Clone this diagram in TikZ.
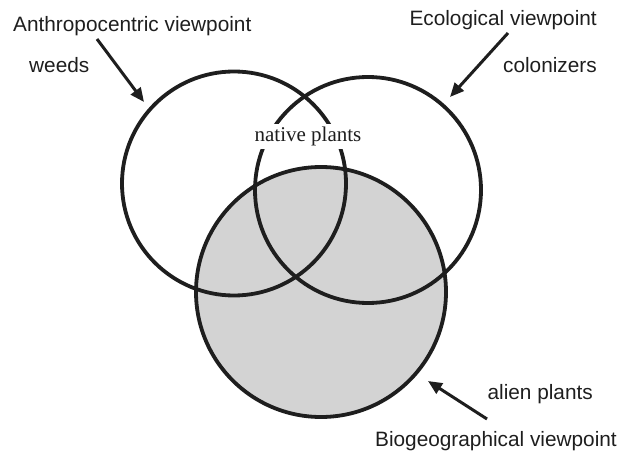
\documentclass[tikz,border=0pt]{standalone}
\usepackage{fontspec}
\setmainfont{Liberation Sans}
\newfontfamily\serifft{Liberation Serif}
\usetikzlibrary{arrows.meta}
\definecolor{ink}{HTML}{1E1E1E}
\definecolor{fillgray}{HTML}{D3D3D3}
\begin{document}
\begin{tikzpicture}[x=1pt,y=-1pt,
  ring/.style={line width=3.8pt, draw=ink},
  lbl/.style={font=\fontsize{20.8}{24}\selectfont, text=ink, inner sep=0pt},
  pointer/.style={line width=3pt, draw=ink, -{Triangle[length=14pt,width=12pt]}}]
\useasboundingbox (0,0) rectangle (619,452);
% circles
\fill[fill=fillgray] (321,292) circle[radius=125pt];
\draw[ring] (234,183.5) circle[radius=112pt];
\draw[ring] (368,190) circle[radius=113pt];
\draw[ring] (321,292) circle[radius=125pt];
% label in the middle
\node[fill=white, minimum width=130pt, minimum height=25pt, inner sep=0pt,
  font=\serifft\fontsize{21}{24}\selectfont, text=ink] (native) at (308,136) {native plants};
% texts
\node[lbl, anchor=base west] (anth) at (13,32) {Anthropocentric viewpoint};
\node[lbl, anchor=base west] (weeds) at (29,73) {weeds};
\node[lbl, anchor=base east] (eco) at (597,26) {Ecological viewpoint};
\node[lbl, anchor=base east] (colon) at (597,73) {colonizers};
\node[lbl, anchor=base east] (alien) at (593,399) {alien plants};
\node[lbl, anchor=base east] (bio) at (617,446) {Biogeographical viewpoint};
% arrows
\coordinate (a1) at (97,39);   \coordinate (t1) at (144,102);
\coordinate (a2) at (508,33);  \coordinate (t2) at (450,97);
\coordinate (a3) at (487,419); \coordinate (t3) at (428,381);
\draw[pointer] (a1) -- (t1);
\draw[pointer] (a2) -- (t2);
\draw[pointer] (a3) -- (t3);
\end{tikzpicture}
\end{document}
